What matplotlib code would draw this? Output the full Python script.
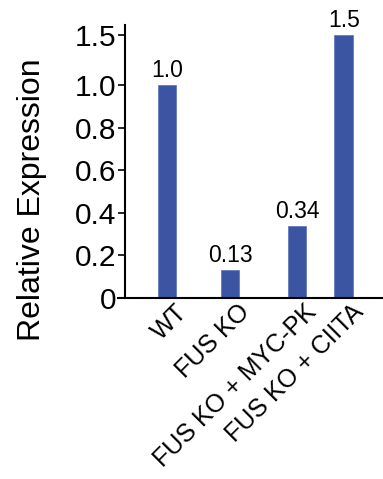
import numpy as np
import matplotlib
matplotlib.use("Agg")
import matplotlib.pyplot as plt
from matplotlib.transforms import ScaledTranslation

plt.rcParams['font.family'] = ['Liberation Sans', 'DejaVu Sans']

groups = ["WT", "FUS KO", "FUS KO + MYC-PK", "FUS KO + CIITA"]
expression = [1.0, 0.13, 0.34, 1.5]
value_labels = ["1.0", "0.13", "0.34", "1.5"]
y_ticks = [0, 0.2, 0.4, 0.6, 0.8, 1.0, 1.5]
y_tick_labels = ["0", "0.2", "0.4", "0.6", "0.8", "1.0", "1.5"]

# bar centres along x (the last one sits closer to its neighbour)
x_pos = [0, 0.97, 2.0, 2.72]
BAR_COLOR = "#3b55a3"

# axis is compressed above 1.0
_K = 0.47


def _fwd(y):
    y = np.asarray(y, dtype=float)
    return np.where(y <= 1, y, 1 + (y - 1) * _K)


def _inv(y):
    y = np.asarray(y, dtype=float)
    return np.where(y <= 1, y, 1 + (y - 1) / _K)


fig = plt.figure(figsize=(3.83, 4.79), dpi=100)
ax = fig.add_axes([0.308, 0.378, 0.692, 0.570])
ax.set_yscale('function', functions=(_fwd, _inv))

ax.bar(x_pos, expression, width=0.29, color=BAR_COLOR, edgecolor="#5b72b8", linewidth=0.5)
for x, v, lab in zip(x_pos, expression, value_labels):
    ax.annotate(lab, (x, v), xytext=(0, 2), textcoords='offset points',
                ha='center', va='bottom', fontsize=16.5)

ax.set_xlim(-0.754, 3.323)
ax.set_ylim(0, 1.6)
ax.set_yticks(y_ticks, labels=y_tick_labels)
ax.minorticks_off()
ax.tick_params(axis='y', direction='out', length=5, width=1.2, pad=1, labelsize=21.5)
ax.tick_params(axis='x', length=0, pad=4)
ax.set_xticks(x_pos)
ax.set_xticklabels(groups, rotation=45, ha='right', va='center',
                   rotation_mode='anchor', fontsize=18)
shift = ScaledTranslation(16 / 100, -5 / 100, fig.dpi_scale_trans)
for t in ax.get_xticklabels():
    t.set_transform(t.get_transform() + shift)

ax.spines['top'].set_visible(False)
ax.spines['right'].set_visible(False)
ax.spines['left'].set_position(('axes', 0.026))
ax.spines['left'].set_linewidth(1.5)
ax.spines['bottom'].set_linewidth(1.5)

ax.set_ylabel("Relative Expression", fontsize=23)
ax.yaxis.set_label_coords(-0.268, 0.359)

fig.savefig("out.png", dpi=100)
